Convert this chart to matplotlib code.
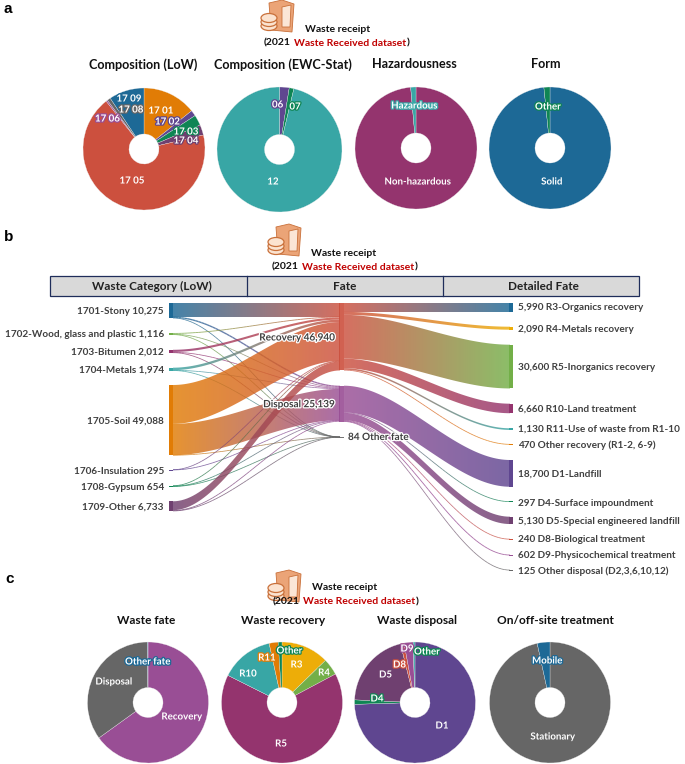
import numpy as np
import matplotlib
matplotlib.use("Agg")
import matplotlib.pyplot as plt
import matplotlib.patheffects as pe
from matplotlib.collections import LineCollection
from matplotlib.colors import to_rgb
from matplotlib.patches import Ellipse, Polygon, Rectangle

plt.rcParams["font.family"] = ["Lato", "DejaVu Sans"]

# -----------------------------
# Colours
# -----------------------------
PURPLE = "#5F4690"
BLUE = "#1D6996"
TEAL = "#38A6A5"
GREEN = "#0F8554"
LIME = "#73AF48"
YELLOW = "#EDAD08"
ORANGE = "#E17C05"
RED = "#CC503E"
WINE = "#94346E"
PLUM = "#6F4070"
MAUVE = "#994E95"
GREY = "#666666"

# -----------------------------
# Data: panel a
# -----------------------------
low_values = [10275, 1116, 2012, 1974, 49088, 295, 654, 6733]
low_colors = [ORANGE, PURPLE, GREEN, PLUM, RED, MAUVE, GREY, BLUE]
ewc_values = [2.5, 1.2, 96.3]
ewc_colors = [PURPLE, GREEN, TEAL]
hazard_values = [98.6, 1.4]
hazard_colors = [WINE, TEAL]
form_values = [98.4, 1.6]
form_colors = [BLUE, GREEN]

# -----------------------------
# Data: panel b
# -----------------------------
left_names = ["1701-Stony 10,275", "1702-Wood, glass and plastic 1,116", "1703-Bitumen 2,012",
              "1704-Metals 1,974", "1705-Soil 49,088", "1706-Insulation 295",
              "1708-Gypsum 654", "1709-Other 6,733"]
left_colors = [BLUE, LIME, WINE, TEAL, ORANGE, PURPLE, GREEN, PLUM]
to_recovery = [9300, 600, 1500, 1700, 27200, 134, 300, 6206]
to_disposal = [950, 500, 500, 270, 21868, 161, 350, 524]
to_other = [25, 16, 12, 4, 20, 0, 4, 3]

recovery_names = ["5,990 R3-Organics recovery", "2,090 R4-Metals recovery", "30,600 R5-Inorganics recovery",
                  "6,660 R10-Land treatment", "1,130 R11-Use of waste from R1-10",
                  "470 Other recovery (R1-2, 6-9)"]
recovery_values = [5990, 2090, 30600, 6660, 1130, 470]
recovery_colors = [BLUE, YELLOW, LIME, WINE, TEAL, ORANGE]
disposal_names = ["18,700 D1-Landfill", "297 D4-Surface impoundment", "5,130 D5-Special engineered landfill",
                  "240 D8-Biological treatment", "602 D9-Physicochemical treatment",
                  "125 Other disposal (D2,3,6,10,12)"]
disposal_values = [18700, 297, 5130, 240, 602, 125]
disposal_colors = [PURPLE, GREEN, PLUM, RED, MAUVE, GREY]

# -----------------------------
# Data: panel c
# -----------------------------
fate_values = [46940, 25139, 84]
fate_colors = [MAUVE, GREY, BLUE]
stationary_values = [96.6, 3.4]
stationary_colors = [GREY, BLUE]

# -----------------------------
# Layout of the sankey, in pixels
# -----------------------------
SCALE = 0.00143
left_tops = [303.3, 333, 349.8, 367.7, 385, 469.6, 485.5, 501.3]
mid_tops = [303.3, 385.7, 437]
right_tops = [303.3, 326.7, 344.7, 403.7, 428.3, 444, 460, 501.4, 516.7, 539, 554.6, 570]
left_label_y = [311.5, 334.5, 352, 370, 421, 471.5, 487, 507]
right_label_y = [308, 329, 367, 409, 429.5, 445.5, 474, 503, 521.5, 540, 556, 571]

fig = plt.figure(figsize=(6.85, 7.64), dpi=100)
ax = fig.add_axes([0, 0, 1, 1], zorder=5)
ax.patch.set_alpha(0)
ax.axis("off")


def draw_pie(values, colors, cx, cy, r):
    w, h = 685, 764
    pie_ax = fig.add_axes([(cx - r - 1) / w, 1 - (cy + r + 1) / h, (2 * r + 2) / w, (2 * r + 2) / h], zorder=1)
    pie_ax.pie(values, colors=colors, startangle=90, counterclock=False, radius=1,
               wedgeprops=dict(width=1 - 15 / r, edgecolor="#eeeeee", linewidth=0.2))
    lim = (r + 1) / r
    pie_ax.set_xlim(-lim, lim)
    pie_ax.set_ylim(-lim, lim)


def pie_label(text, x, y, color):
    t = ax.text(x, y, text, color="white", fontsize=7.0, fontweight="bold", ha="center", va="center", zorder=20)
    t.set_path_effects([pe.withStroke(linewidth=1.8, foreground=color)])


def draw_icon(x, y):
    # server and disk stack icon
    edge = "#C9703A"
    ax.add_patch(Polygon([(x + 8, y + 3), (x + 21, y), (x + 33, y + 4), (x + 31, y + 32), (x + 10, y + 30)],
                         closed=True, fc="#EBA477", ec=edge, lw=0.6))
    ax.add_patch(Polygon([(x + 21, y + 7), (x + 30, y + 5), (x + 29, y + 27), (x + 21, y + 27)],
                         closed=True, fc="#FBE6D6", ec=edge, lw=0.6))
    for dy in (26, 22, 18):
        ax.add_patch(Ellipse((x + 8, y + dy), 16, 9, fc="#FBE3D0", ec=edge, lw=0.9))


def dataset_lines(cx, y1, x_start, y2):
    ax.text(cx, y1, "Waste receipt", fontsize=7.5, fontweight="bold", ha="center", va="center", color="#111111")
    x = x_start
    renderer = fig.canvas.get_renderer()
    for part, col in [("(2021", "#111111"), ("Waste Received dataset", "#C00000"), (")", "#111111")]:
        t = ax.text(x, y2, part, fontsize=7.5, fontweight="bold", ha="left", va="center", color=col)
        x += t.get_window_extent(renderer).width + (3.0 if part == "(2021" else 0.5)


def curve(x0, x1, y0, y1, n=60):
    u = np.linspace(0, 1, n)
    return x0 + (x1 - x0) * u, y0 + (y1 - y0) * (3 * u ** 2 - 2 * u ** 3)


def draw_link(x0, x1, y0, y1, value, c0, c1):
    h = value * SCALE
    if h <= 0:
        return
    xs, mid = curve(x0, x1, y0 + h / 2, y1 + h / 2)
    rgb0, rgb1 = np.array(to_rgb(c0)), np.array(to_rgb(c1))
    if h < 1.5:
        # thin links: a graded line is cleaner than a clipped image
        pts = np.column_stack([xs, mid])
        segs = np.stack([pts[:-1], pts[1:]], axis=1)
        u = np.linspace(0, 1, len(segs))[:, None]
        cols = rgb0 * (1 - u) + rgb1 * u
        ax.add_collection(LineCollection(segs, colors=cols, linewidths=max(h * 0.72, 0.55), alpha=0.8, zorder=3))
        return
    u = np.linspace(0, 1, 128)[:, None]
    grad = (rgb0 * (1 - u) + rgb1 * u)[None, :, :]
    im = ax.imshow(grad, extent=(x0, x1, mid.max() + h, mid.min() - h), aspect="auto", alpha=0.82,
                   interpolation="bilinear", zorder=3)
    poly = Polygon(np.column_stack([np.r_[xs, xs[::-1]], np.r_[mid - h / 2, (mid + h / 2)[::-1]]]),
                   closed=True, transform=ax.transData)
    im.set_clip_path(poly)


# -----------------------------
# Panel a
# -----------------------------
ax.text(4, 9, "a", fontsize=11, fontweight="bold", family="Liberation Sans", ha="left", va="center")
draw_icon(261, 0)
dataset_lines(338, 29, 264, 43)
for title, x, y in [("Composition (LoW)", 143, 65), ("Composition (EWC-Stat)", 283, 65),
                    ("Hazardousness", 414.5, 64), ("Form", 545.6, 64)]:
    ax.text(x, y, title, fontsize=9.1, fontweight="bold", ha="center", va="center", color="#111111")

draw_pie(low_values, low_colors, 144, 149, 61)
draw_pie(ewc_values, ewc_colors, 279.5, 149.5, 62.5)
draw_pie(hazard_values, hazard_colors, 416, 148, 61)
draw_pie(form_values, form_colors, 550, 148, 61)

for label, x, y, c in [("17 01", 161, 111, ORANGE), ("17 02", 167.5, 122, PURPLE), ("17 03", 186, 132, GREEN),
                       ("17 04", 186, 141, PLUM), ("17 05", 132, 181, RED), ("17 06", 107.5, 119, MAUVE),
                       ("17 08", 131, 110, GREY), ("17 09", 129, 99, BLUE), ("06", 277.6, 105, PURPLE),
                       ("07", 295, 107, GREEN), ("12", 273, 182, TEAL), ("Hazardous", 414.5, 106, TEAL),
                       ("Non-hazardous", 418, 182, WINE), ("Other", 548, 107, GREEN), ("Solid", 552, 182, BLUE)]:
    pie_label(label, x, y, c)

# -----------------------------
# Panel b
# -----------------------------
ax.text(4, 237, "b", fontsize=11, fontweight="bold", family="Liberation Sans", ha="left", va="center")
draw_icon(268, 224)
dataset_lines(344, 253, 272, 267)

ax.add_patch(Rectangle((50, 276), 589, 20, fc="#D9D9D9", ec="#1F2D5A", lw=0.9, zorder=2))
ax.plot([247, 247], [276, 296], color="#1F2D5A", lw=0.9, zorder=2)
ax.plot([443, 443], [276, 296], color="#1F2D5A", lw=0.9, zorder=2)
for head, x in [("Waste Category (LoW)", 152), ("Fate", 345), ("Detailed Fate", 543)]:
    ax.text(x, 286.5, head, fontsize=8.5, fontweight="bold", ha="center", va="center", color="#222222", zorder=6)

mid_colors = [RED, MAUVE, GREY]
mid_values = [sum(to_recovery), 25139, 84]
flows = [to_recovery, to_disposal, to_other]

# links from waste category to fate
mid_cursor = list(mid_tops)
for i, top in enumerate(left_tops):
    y = top
    for m in range(3):
        v = flows[m][i]
        draw_link(173, 340, y, mid_cursor[m], v, left_colors[i], mid_colors[m])
        y += v * SCALE
        mid_cursor[m] += v * SCALE

# links from fate to detailed fate
right_values = recovery_values + disposal_values
right_colors = recovery_colors + disposal_colors
right_names = recovery_names + disposal_names
y_rec, y_dis = mid_tops[0], mid_tops[1]
for j, v in enumerate(right_values):
    if j < len(recovery_values):
        draw_link(344, 510, y_rec, right_tops[j], v, RED, right_colors[j])
        y_rec += v * SCALE
    else:
        draw_link(344, 510, y_dis, right_tops[j], v, MAUVE, right_colors[j])
        y_dis += v * SCALE

# nodes
for i, top in enumerate(left_tops):
    v = low_values[i]
    ax.add_patch(Rectangle((169, top), 4.3, max(v * SCALE, 1), fc=left_colors[i], ec="none", zorder=4))
    ax.text(164, left_label_y[i], left_names[i], fontsize=7.2, fontweight="bold", ha="right", va="center",
            color="#404040")
for m, top in enumerate(mid_tops):
    ax.add_patch(Rectangle((339.5, top), 4.3, max(mid_values[m] * SCALE, 1), fc=mid_colors[m], ec="none",
                           alpha=0.9, zorder=4))
for j, top in enumerate(right_tops):
    ax.add_patch(Rectangle((509, top), 4.3, max(right_values[j] * SCALE, 1), fc=right_colors[j], ec="none", zorder=4))
    ax.text(518, right_label_y[j], right_names[j], fontsize=7.2, fontweight="bold", ha="left", va="center",
            color="#404040")

halo = [pe.withStroke(linewidth=1.8, foreground="white")]
ax.text(297, 338, "Recovery 46,940", fontsize=7.2, fontweight="bold", ha="center", va="center", color="#404040",
        path_effects=halo, zorder=8)
ax.text(299, 404.7, "Disposal 25,139", fontsize=7.2, fontweight="bold", ha="center", va="center", color="#404040",
        path_effects=halo, zorder=8)
ax.text(348, 437.5, "84 Other fate", fontsize=7.2, fontweight="bold", ha="left", va="center", color="#404040",
        path_effects=halo, zorder=8)

# -----------------------------
# Panel c
# -----------------------------
ax.text(5, 579, "c", fontsize=11, fontweight="bold", family="Liberation Sans", ha="left", va="center")
draw_icon(268, 570)
dataset_lines(345, 588, 273, 602)
for title, x in [("Waste fate", 146), ("Waste recovery", 283), ("Waste disposal", 416.7),
                 ("On/off-site treatment", 555.7)]:
    ax.text(x, 621, title, fontsize=8.6, fontweight="bold", ha="center", va="center", color="#111111")

draw_pie(fate_values, fate_colors, 148, 702.5, 60.5)
draw_pie(recovery_values, [YELLOW, LIME, WINE, TEAL, ORANGE, GREEN], 282, 702.5, 60.5)
draw_pie(disposal_values, [PURPLE, GREEN, PLUM, RED, MAUVE, TEAL], 415, 702.5, 60.5)
draw_pie(stationary_values, stationary_colors, 550, 702.5, 60.5)

for label, x, y, c in [("Other fate", 148, 662, BLUE), ("Disposal", 114, 682, GREY), ("Recovery", 182, 717, MAUVE),
                       ("R5", 281, 744, WINE), ("R10", 248, 674, TEAL), ("R11", 267, 658, ORANGE),
                       ("Other", 289.5, 651, GREEN), ("R3", 296.5, 665, YELLOW), ("R4", 324, 673, LIME),
                       ("D1", 442, 726, PURPLE), ("D4", 377, 699, GREEN), ("D5", 385.5, 675, PLUM),
                       ("D8", 399.5, 665, RED), ("D9", 407, 649, MAUVE), ("Other", 427, 652, GREEN),
                       ("Mobile", 547.4, 661, BLUE), ("Stationary", 553, 737, GREY)]:
    pie_label(label, x, y, c)

ax.set_xlim(0, 685)
ax.set_ylim(764, 0)
fig.savefig("out.png", dpi=100)
